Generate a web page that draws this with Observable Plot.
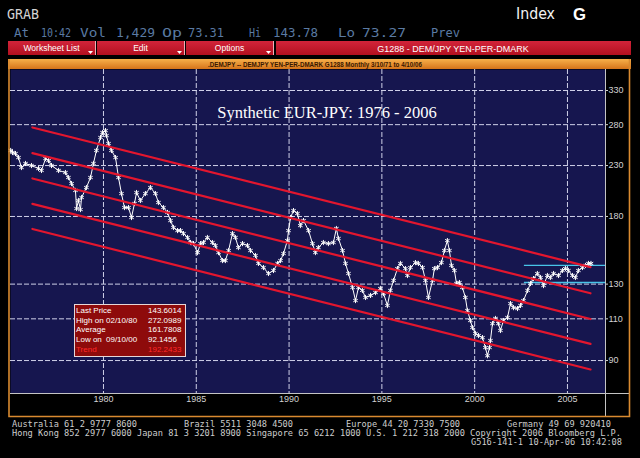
<!DOCTYPE html>
<html><head><meta charset="utf-8">
<script src="https://cdn.jsdelivr.net/npm/d3@7"></script>
<script src="https://cdn.jsdelivr.net/npm/@observablehq/plot@0.6"></script>
<style>
html,body{margin:0;padding:0;background:#000;}
#wrap{position:relative;width:640px;height:458px;background:#000;overflow:hidden;}
#chart{position:absolute;left:8px;top:58px;}
#deco{position:absolute;left:0;top:0;}
#info{position:absolute;left:74px;top:304px;width:110px;height:51px;background:#8e0b0b;border:1px solid #e6d6d6;font:8px Arial,"Liberation Sans",sans-serif;color:#fff;}
#info .c{position:absolute;height:10px;line-height:10px;white-space:pre;}
</style></head>
<body><div id="wrap"><div id="chart"></div><svg id="deco" width="640" height="458"></svg><div id="info"></div></div>
<script>
const years = [1975.00,1975.10,1975.26,1975.42,1975.58,1975.80,1976.12,1976.50,1976.66,1976.88,
1977.04,1977.20,1977.58,1977.95,1978.11,1978.28,1978.49,1978.55,1978.65,1978.76,
1978.82,1979.08,1979.30,1979.46,1979.62,1979.84,1979.95,1980.11,1980.16,1980.27,
1980.43,1980.65,1980.81,1980.97,1981.13,1981.35,1981.51,1981.67,1981.78,1981.99,
1982.26,1982.53,1982.80,1982.96,1983.23,1983.45,1983.61,1983.77,1983.99,1984.15,
1984.31,1984.53,1984.69,1984.85,1985.07,1985.23,1985.39,1985.60,1985.87,1986.03,
1986.20,1986.41,1986.57,1986.74,1986.95,1987.11,1987.27,1987.49,1987.76,1987.92,
1988.19,1988.35,1988.62,1988.89,1989.16,1989.38,1989.54,1989.70,1989.91,1989.97,
1990.08,1990.24,1990.45,1990.61,1990.78,1991.05,1991.26,1991.42,1991.58,1991.85,
1992.12,1992.39,1992.55,1992.66,1992.88,1993.04,1993.20,1993.42,1993.58,1993.74,
1993.95,1994.12,1994.39,1994.66,1994.92,1995.09,1995.30,1995.46,1995.63,1995.84,
1996.00,1996.27,1996.38,1996.54,1996.81,1996.97,1997.19,1997.35,1997.51,1997.73,
1997.83,1998.00,1998.21,1998.37,1998.53,1998.64,1998.75,1998.91,1999.02,1999.18,
1999.34,1999.50,1999.61,1999.77,1999.88,2000.04,2000.21,2000.42,2000.58,2000.69,
2000.80,2000.85,2000.96,2001.12,2001.28,2001.39,2001.55,2001.77,2001.93,2002.09,
2002.31,2002.47,2002.63,2002.85,2003.01,2003.17,2003.38,2003.55,2003.71,2003.92,
2004.08,2004.25,2004.52,2004.73,2004.89,2005.05,2005.27,2005.43,2005.59,2005.81,
2005.97,2006.13,2006.27];
const values = [247.3,244.9,243.7,239.0,227.8,232.3,230.0,226.7,224.6,237.9,
235.6,230.0,224.6,222.4,217.1,210.9,204.0,187.0,194.4,186.1,
197.2,206.9,217.1,232.3,247.3,263.2,269.6,272.1,265.7,255.7,
247.3,239.0,217.1,201.0,187.9,187.9,179.1,191.6,202.0,194.4,
201.0,206.9,201.0,192.5,187.9,183.5,176.5,170.7,168.2,168.2,
165.8,162.7,158.8,158.0,151.3,158.0,158.8,162.7,158.8,156.5,
151.3,145.6,145.6,152.8,165.8,162.7,155.0,158.0,156.5,152.8,
149.2,143.6,140.8,136.8,138.8,143.6,145.6,150.6,160.3,168.2,
179.1,185.2,182.6,172.3,176.5,168.2,158.0,151.3,155.0,158.8,
158.0,158.8,169.9,161.9,152.8,143.6,136.8,127.9,120.1,127.9,
126.1,121.9,123.1,124.8,127.3,124.2,117.3,126.1,132.3,140.1,
143.6,140.1,135.5,140.8,144.2,143.6,140.8,132.3,121.9,132.3,
140.1,140.8,144.2,152.8,160.3,152.8,142.2,138.8,130.4,131.0,
127.9,121.9,114.5,109.1,105.5,102.5,101.5,100.5,95.8,92.1,
95.8,99.1,107.5,110.2,107.5,104.0,109.1,110.7,118.4,116.1,
115.6,117.3,120.1,126.1,130.4,133.5,136.8,134.2,129.1,135.5,
134.2,136.8,135.5,138.8,140.1,138.8,135.5,134.2,138.8,140.8,
142.2,143.6,143.6];

// trend channel (5 parallel lines on the log scale)
const channelYears = [1976.17, 2006.24];
const channelStart = [276.2, 244.1, 216.1, 191.3, 169.5];
const channelEnd   = [141.1, 124.4, 109.9, 97.5, 86.2];
// recent range (cyan)
const rangeYears = [2002.68, 2007.05];
const rangeLevels = [142.3, 131.0];

const xTicks = [1980, 1985, 1990, 1995, 2000, 2005];
const yTicks = [90, 110, 130, 180, 230, 280, 330];

const chartTitle = "Synthetic EUR-JPY: 1976 - 2006";
const statLabels = ["Last Price", "High on", "Average", "Low on", "Trend"];
const statDates  = ["", "02/10/80", "", "09/10/00", ""];
const statValues = ["143.6014", "272.0989", "161.7808", "92.1456", "192.2433"];

// ---- build chart ----
const n = Math.min(years.length, values.length);
const series = d3.range(n).map(i => ({t: years[i], v: values[i]}));
const channel = channelStart.flatMap((s, k) => [
  {t: channelYears[0], v: s, k},
  {t: channelYears[1], v: channelEnd[k], k}
]);
const ranges = rangeLevels.map(v => ({v, t1: rangeYears[0], t2: rangeYears[1]}));

const chart = Plot.plot({
  width: 623, height: 360,
  marginLeft: 2, marginRight: 26, marginTop: 11, marginBottom: 25,
  style: {background: "transparent", color: "#d2d2d2", fontFamily: "Arial, 'Liberation Sans', sans-serif", fontSize: "9px"},
  x: {domain: [1974.99, 2007.05]},
  y: {type: "log", domain: [76.8, 365.1]},
  marks: [
    Plot.frame({fill: "#16164f", stroke: null}),
    Plot.gridX(xTicks, {stroke: "#cfd0e8", strokeOpacity: 1, strokeDasharray: "5,2"}),
    Plot.gridY(yTicks, {stroke: "#cfd0e8", strokeOpacity: 1, strokeDasharray: "5,2"}),
    Plot.ruleY(ranges, {y: "v", x1: "t1", x2: "t2", stroke: "#48c4e8", strokeWidth: 1.3}),
    Plot.line(series, {x: "t", y: "v", stroke: "#ffffff", strokeWidth: 1}),
    Plot.dot(series, {x: "t", y: "v", symbol: "asterisk", r: 2.4, stroke: "#ffffff", strokeWidth: 1}),
    Plot.line(channel, {x: "t", y: "v", z: "k", stroke: "#e3162e", strokeWidth: 2.2}),
    Plot.axisX(xTicks, {tickSize: 0, tickPadding: 2, tickFormat: d => String(d), label: null, fontSize: 9}),
    Plot.axisY(yTicks, {anchor: "right", tickSize: 2, tickPadding: 1, tickFormat: d => String(d), label: null, fontSize: 9}),
    Plot.text([chartTitle], {text: d => d, frameAnchor: "top", dx: 19, dy: 43, lineAnchor: "middle",
      fill: "#ffffff", fontFamily: "'Liberation Serif', 'Times New Roman', serif", fontSize: 16.5})
  ]
});
document.getElementById("chart").appendChild(chart);

// ---- info box ----
const info = d3.select("#info");
statLabels.forEach((lab, i) => {
  const col = i === 4 ? "#ff2a2a" : "#ffffff";
  const top = 1 + 9.65 * i;
  info.append("div").attr("class", "c").style("left", "1px").style("top", top + "px").style("color", col).text(lab);
  if (statDates[i]) info.append("div").attr("class", "c").style("left", "31px").style("top", top + "px").style("color", col).text(statDates[i]);
  info.append("div").attr("class", "c").style("left", "73px").style("top", top + "px").style("color", col).text(statValues[i]);
});

// ---- Bloomberg screen decoration (header / frame / footer) ----
const svg = d3.select("#deco");
const defs = svg.append("defs");
const og = defs.append("linearGradient").attr("id", "og").attr("x1", 0).attr("y1", 0).attr("x2", 0).attr("y2", 1);
og.append("stop").attr("offset", 0).attr("stop-color", "#f7b04a");
og.append("stop").attr("offset", 1).attr("stop-color", "#d5741a");
const rg = defs.append("linearGradient").attr("id", "rg").attr("x1", 0).attr("y1", 0).attr("x2", 0).attr("y2", 1);
rg.append("stop").attr("offset", 0).attr("stop-color", "#d2243a");
rg.append("stop").attr("offset", 1).attr("stop-color", "#b3101f");

function txt(s, x, y, o) {
  const t = svg.append("text").attr("x", x).attr("y", y).text(s)
    .attr("font-family", o.font || "'DejaVu Sans Mono', 'Liberation Mono', monospace")
    .attr("font-size", o.size || 9).attr("fill", o.fill || "#cfcfcf");
  if (o.len) t.attr("textLength", o.len).attr("lengthAdjust", "spacingAndGlyphs");
  if (o.anchor) t.attr("text-anchor", o.anchor);
  if (o.weight) t.attr("font-weight", o.weight);
  return t;
}
// top line
txt("GRAB", 7, 19, {size: 14, len: 32, fill: "#d4d4d4"});
txt("Index", 516, 19, {size: 15, len: 39, fill: "#f2f2f2", font: "'DejaVu Sans Condensed', 'Liberation Sans Narrow', sans-serif"});
txt("G", 573, 20, {size: 17, len: 13, fill: "#ffffff", weight: "bold", font: "Arial, 'Liberation Sans', sans-serif"});
// quote line
const quoteWords = [["At",14,29],["10:42",41,71],["Vol",80,106],["1,429",116,155],["Op",162,182],["73.31",188,224],
  ["Hi",249,261],["143.78",273,318],["Lo",338,355],["73.27",362,406],["Prev",431,460]];
quoteWords.forEach(([w, a, b]) => txt(w, a, 36.5, {size: 12.5, len: b - a, fill: "#5a7aa3"}));
// button bar
const buttons = [["Worksheet List", 8, 87], ["Edit", 97, 87], ["Options", 186, 87]];
buttons.forEach(([label, x, w]) => {
  svg.append("rect").attr("x", x).attr("y", 41).attr("width", w).attr("height", 14).attr("fill", "url(#rg)");
  svg.append("line").attr("x1", x + w + 0.5).attr("x2", x + w + 0.5).attr("y1", 41).attr("y2", 55).attr("stroke", "#f0b0b8");
  svg.append("path").attr("d", `M${x + w - 7},51 L${x + w - 2},51 L${x + w - 4.5},54 Z`).attr("fill", "#ffffff");
  txt(label, x + w / 2, 51, {size: 8.5, fill: "#ffffff", anchor: "middle", font: "Arial, 'Liberation Sans', sans-serif"});
});
svg.append("rect").attr("x", 276).attr("y", 41).attr("width", 355).attr("height", 14).attr("fill", "url(#rg)");
txt("G1288 - DEM/JPY YEN-PER-DMARK", 453, 51.5, {size: 9, fill: "#ffffff", anchor: "middle", font: "Arial, 'Liberation Sans', sans-serif"});
// orange title bar
svg.append("rect").attr("x", 8).attr("y", 59).attr("width", 623).attr("height", 10).attr("fill", "url(#og)");
txt(".DEMJPY -- DEMJPY YEN-PER-DMARK G1288 Monthly 3/10/71 to 4/10/06", 315, 66.5,
  {size: 6.5, len: 214, fill: "#3a1800", anchor: "middle", font: "Arial, 'Liberation Sans', sans-serif", weight: "bold"});
// frame and axis lines
svg.append("line").attr("x1", 10).attr("x2", 630).attr("y1", 393.5).attr("y2", 393.5).attr("stroke", "#c4c4c4");
svg.append("line").attr("x1", 605.5).attr("x2", 605.5).attr("y1", 69).attr("y2", 416).attr("stroke", "#c4c4c4");
svg.append("path").attr("d", "M9,59 L9,416.5 L629.5,416.5 L629.5,59").attr("fill", "none").attr("stroke", "#d98a30").attr("stroke-width", 1.6);
// footer
const footer = [
  ["Australia 61 2 9777 8600", 12, 137, 426.5],
  ["Brazil 5511 3048 4500", 184, 293, 426.5],
  ["Europe 44 20 7330 7500", 346, 460, 426.5],
  ["Germany 49 69 920410", 507, 611, 426.5],
  ["Hong Kong 852 2977 6000 Japan 81 3 3201 8900 Singapore 65 6212 1000 U.S. 1 212 318 2000 Copyright 2006 Bloomberg L.P.", 12, 621, 436],
  ["G516-141-1 10-Apr-06 10:42:08", 471, 622, 445]
];
footer.forEach(([s, a, b, y]) => txt(s, a, y, {size: 8.6, len: b - a, fill: "#cdcdcd"}));
</script></body></html>
